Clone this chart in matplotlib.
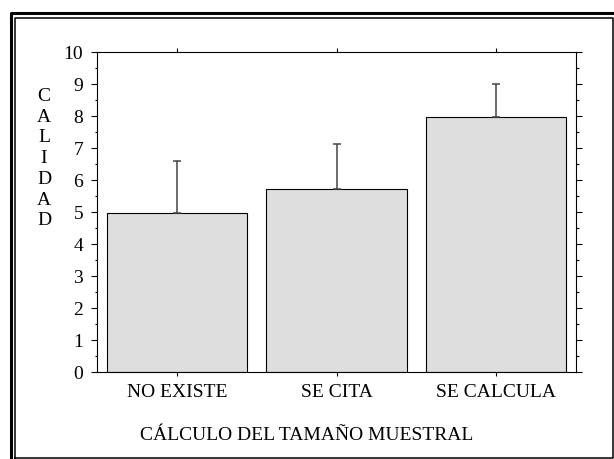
import matplotlib.pyplot as plt
from matplotlib.lines import Line2D
from matplotlib.ticker import MultipleLocator

categorias = ["NO EXISTE", "SE CITA", "SE CALCULA"]
calidad = [4.95, 5.71, 7.96]
error_sup = [1.65, 1.41, 1.03]
etiqueta_y = "CALIDAD"
etiqueta_x = "CÁLCULO DEL TAMAÑO MUESTRAL"

plt.rcParams['font.family'] = ['Liberation Serif', 'DejaVu Serif']

W, H = 614, 460
fig = plt.figure(figsize=(W / 100, H / 100), dpi=100)
ax = fig.add_axes([97 / W, 1 - 372.5 / H, (576 - 97) / W, (372.5 - 53) / H])

x = range(len(categorias))
ax.bar(x, calidad, width=0.88, color='#dedede', edgecolor='black', linewidth=0.8, zorder=2)
ax.errorbar(x, calidad, yerr=[[0] * 3, error_sup], fmt='none', ecolor='#444444',
            elinewidth=1.1, capsize=3, capthick=1.1, zorder=3)

ax.set_xlim(-0.5, 2.5)
ax.set_ylim(0, 10)
ax.set_xticks(list(x))
ax.set_xticklabels(categorias, fontsize=14)
ax.yaxis.set_major_locator(MultipleLocator(1))
ax.yaxis.set_minor_locator(MultipleLocator(0.5))
ax.tick_params(axis='y', which='major', direction='out', length=4, width=0.8,
               left=True, right=True, labelsize=14, pad=6)
ax.tick_params(axis='y', which='minor', direction='out', length=1.8, width=0.8,
               left=True, right=True)
ax.tick_params(axis='x', direction='out', length=3, width=0.8, top=True, bottom=True, pad=5)
for s in ax.spines.values():
    s.set_linewidth(0.8)

# letras verticales del eje y
for i, letra in enumerate(etiqueta_y):
    fig.text(44 / W, 1 - (96.5 + i * 20.75) / H, letra, fontsize=14,
             ha='center', va='center')

fig.text(307 / W, 1 - 436 / H, etiqueta_x, fontsize=14, ha='center', va='center')

# marco doble
fig.add_artist(Line2D([10.5 / W, 10.5 / W, 1.0], [0.0, 1 - 13.7 / H, 1 - 13.7 / H],
                      color='black', linewidth=2.2))
xs = [14.5, 14.5, 612.6, 612.6, 14.5]
ys = [459, 18.8, 18.8, 459, 459]
fig.add_artist(Line2D([v / W for v in xs], [1 - v / H for v in ys],
                      color='black', linewidth=1.1))

fig.savefig('out.png', dpi=100)
